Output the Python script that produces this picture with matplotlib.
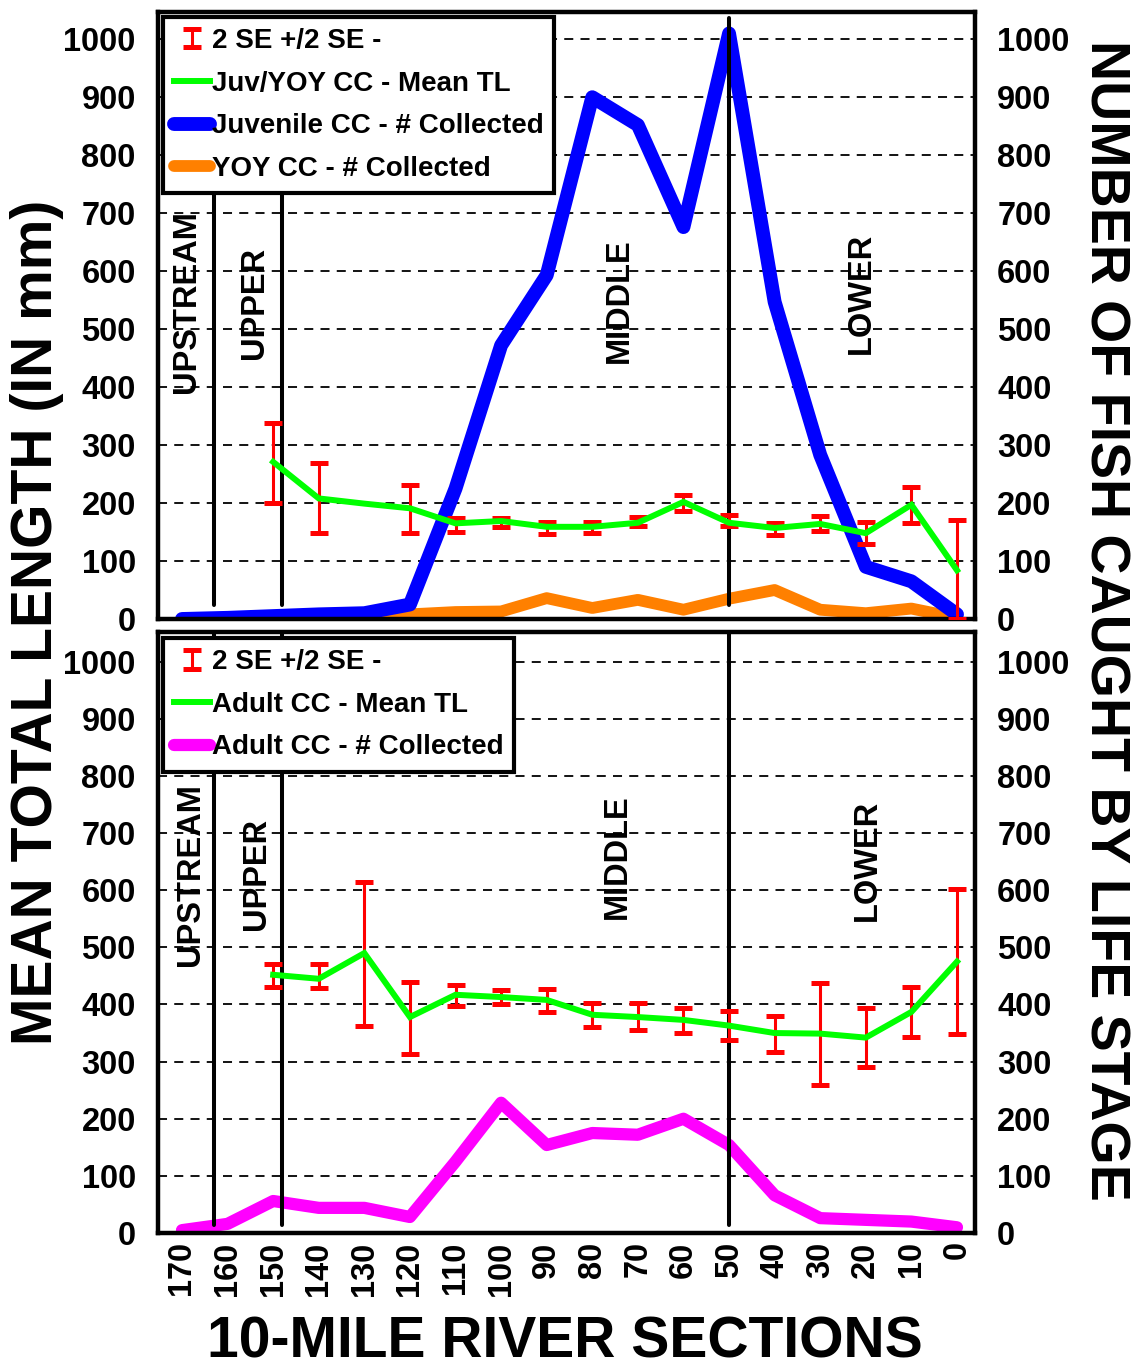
import numpy as np
import matplotlib
matplotlib.use('Agg')
import matplotlib.pyplot as plt
from matplotlib.legend_handler import HandlerErrorbar

plt.rcParams['font.family'] = ['Liberation Sans', 'DejaVu Sans']
plt.rcParams['font.weight'] = 'bold'

# 10-mile river sections, upstream to downstream
sections = [170, 160, 150, 140, 130, 120, 110, 100, 90, 80, 70, 60, 50, 40, 30, 20, 10, 0]

# Juvenile / YOY catch and length
juv_count = [0, 2, 5, 8, 10, 25, 225, 472, 593, 900, 852, 676, 1010, 547, 283, 90, 65, 8]
yoy_count = [0, 0, 0, 1, 2, 8, 12, 13, 36, 19, 33, 16, 35, 50, 16, 10, 18, 2]
juv_tl = [np.nan, np.nan, 271, 208, 199, 191, 165, 169, 159, 159, 166, 202, 166, 157, 164, 148, 197, 84]
juv_tl_hi = [np.nan, np.nan, 338, 269, np.nan, 231, 174, 175, 167, 167, 176, 214, 179, 165, 178, 168, 228, 171]
juv_tl_lo = [np.nan, np.nan, 200, 148, np.nan, 148, 150, 158, 147, 148, 160, 186, 160, 145, 152, 129, 165, 0]

# Adult catch and length
adult_count = [5, 16, 56, 44, 44, 28, 125, 228, 154, 175, 172, 200, 154, 66, 26, 23, 20, 10]
adult_tl = [np.nan, np.nan, 452, 445, 490, 378, 417, 413, 408, 382, 378, 373, 363, 350, 349, 342, 387, 475]
adult_tl_hi = [np.nan, np.nan, 471, 471, 615, 440, 434, 426, 427, 403, 403, 394, 389, 380, 438, 394, 431, 602]
adult_tl_lo = [np.nan, np.nan, 431, 429, 363, 313, 398, 401, 387, 361, 356, 350, 338, 317, 259, 291, 343, 349]

# reach boundaries and names
boundaries = [163, 148, 50]
reach_names = ['UPSTREAM', 'UPPER', 'MIDDLE', 'LOWER']
reach_x_top = [168.9, 154, 74, 21]
reach_y_top = [547, 545, 550, 562]
reach_x_bot = [168.2, 153.6, 74.6, 19.6]
reach_y_bot = [627, 629, 658, 653]

yticks = list(range(0, 1001, 100))

W, H = 1137, 1369
fig = plt.figure(figsize=(W / 100, H / 100), dpi=100)

ax_l, ax_r = 158, 975
ax_top = fig.add_axes([ax_l / W, 1 - 619 / H, (ax_r - ax_l) / W, 607 / H])
ax_bot = fig.add_axes([ax_l / W, 1 - 1233 / H, (ax_r - ax_l) / W, 601 / H])

RED = '#ff0000'
GREEN = '#00ff00'


def dress(ax, ytop, vl_lo, vl_hi, show_x):
    ax.set_xlim(175.26, -3.95)
    ax.set_ylim(0, ytop)
    ax.set_yticks(yticks)
    ax.set_xticks(sections)
    ax.yaxis.grid(True, linestyle=(0, (5, 4)), color='black', linewidth=1.3, zorder=0)
    ax.set_axisbelow(True)
    for s in ax.spines.values():
        s.set_linewidth(3.2)
    ax.tick_params(axis='both', length=0, labelsize=23.5, pad=16)
    ax.tick_params(axis='y', labelright=True, right=True)
    for lab in ax.get_yticklabels():
        lab.set_fontweight('bold')
    if show_x:
        ax.set_xticklabels([str(s) for s in sections], rotation=90, fontsize=23.5,
                           fontweight='bold')
        ax.tick_params(axis='x', pad=6)
    else:
        ax.set_xticklabels([])
    for b in boundaries:
        ax.plot([b, b], [vl_lo, vl_hi], color='black', linewidth=2.9, zorder=3,
                solid_capstyle='round')


def reach_labels(ax, xs, ys):
    for name, x, y in zip(reach_names, xs, ys):
        ax.text(x, y, name, rotation=90, ha='center', va='center', fontsize=23.5,
                fontweight='bold', zorder=6)


def tl_errorbars(ax, tl, lo, hi):
    tl = np.array(tl, dtype=float)
    lo = np.array(lo, dtype=float)
    hi = np.array(hi, dtype=float)
    keep = ~np.isnan(lo)
    xs = np.array(sections)[keep]
    err = [tl[keep] - lo[keep], hi[keep] - tl[keep]]
    eb = ax.errorbar(xs, tl[keep], yerr=err, fmt='none', ecolor=RED, elinewidth=2.2,
                     capsize=6.5, capthick=3.6, zorder=4, label='2 SE +/2 SE -')
    return eb


def tl_line(ax, tl, label):
    tl = np.array(tl, dtype=float)
    keep = ~np.isnan(tl)
    line, = ax.plot(np.array(sections)[keep], tl[keep], color=GREEN, linewidth=4.3,
                    zorder=5, label=label, solid_joinstyle='miter')
    return line


def add_legend(ax, handles, eb, anchor):
    leg = ax.legend(handles=handles, loc='upper left', bbox_to_anchor=anchor,
                    borderaxespad=0, handlelength=1.3, handletextpad=0.05,
                    labelspacing=0.6, borderpad=0.4, fancybox=False, framealpha=1,
                    edgecolor='black', prop={'weight': 'bold', 'size': 20},
                    handler_map={eb: HandlerErrorbar(xerr_size=0.3, yerr_size=0.33)})
    leg.get_frame().set_linewidth(3)
    leg.set_zorder(10)
    return leg


# ---- top panel: juveniles and young-of-year
dress(ax_top, 1047, 24, 1036, False)
yoy_line, = ax_top.plot(sections, yoy_count, color='#ff8000', linewidth=8.5, zorder=2,
                        solid_capstyle='round', label='YOY CC - # Collected')
juv_line, = ax_top.plot(sections, juv_count, color='#0000ff', linewidth=10, zorder=2.5,
                        solid_capstyle='round', label='Juvenile CC - # Collected')
eb_top = tl_errorbars(ax_top, juv_tl, juv_tl_lo, juv_tl_hi)
tl_top = tl_line(ax_top, juv_tl, 'Juv/YOY CC - Mean TL')
reach_labels(ax_top, reach_x_top, reach_y_top)
add_legend(ax_top, [eb_top, tl_top, juv_line, yoy_line], eb_top, (0.006, 0.992))

# ---- bottom panel: adults
dress(ax_bot, 1052, 14, 1049, True)
adult_line, = ax_bot.plot(sections, adult_count, color='#ff00ff', linewidth=8.8, zorder=2,
                          solid_capstyle='round', label='Adult CC - # Collected')
eb_bot = tl_errorbars(ax_bot, adult_tl, adult_tl_lo, adult_tl_hi)
tl_bot = tl_line(ax_bot, adult_tl, 'Adult CC - Mean TL')
reach_labels(ax_bot, reach_x_bot, reach_y_bot)
add_legend(ax_bot, [eb_bot, tl_bot, adult_line], eb_bot, (0.006, 0.99))

# ---- shared axis titles
fig.text(37 / W, 1 - 622 / H, 'MEAN TOTAL LENGTH (IN mm)', rotation=90, ha='center',
         va='center', fontsize=41, fontweight='bold')
fig.text(1105 / W, 1 - 620 / H, 'NUMBER OF FISH CAUGHT BY LIFE STAGE', rotation=-90,
         ha='center', va='center', fontsize=40, fontweight='bold')
fig.text(565 / W, 1 - 1343 / H, '10-MILE RIVER SECTIONS', ha='center', va='center',
         fontsize=41, fontweight='bold')

fig.savefig('out.png', dpi=100)
